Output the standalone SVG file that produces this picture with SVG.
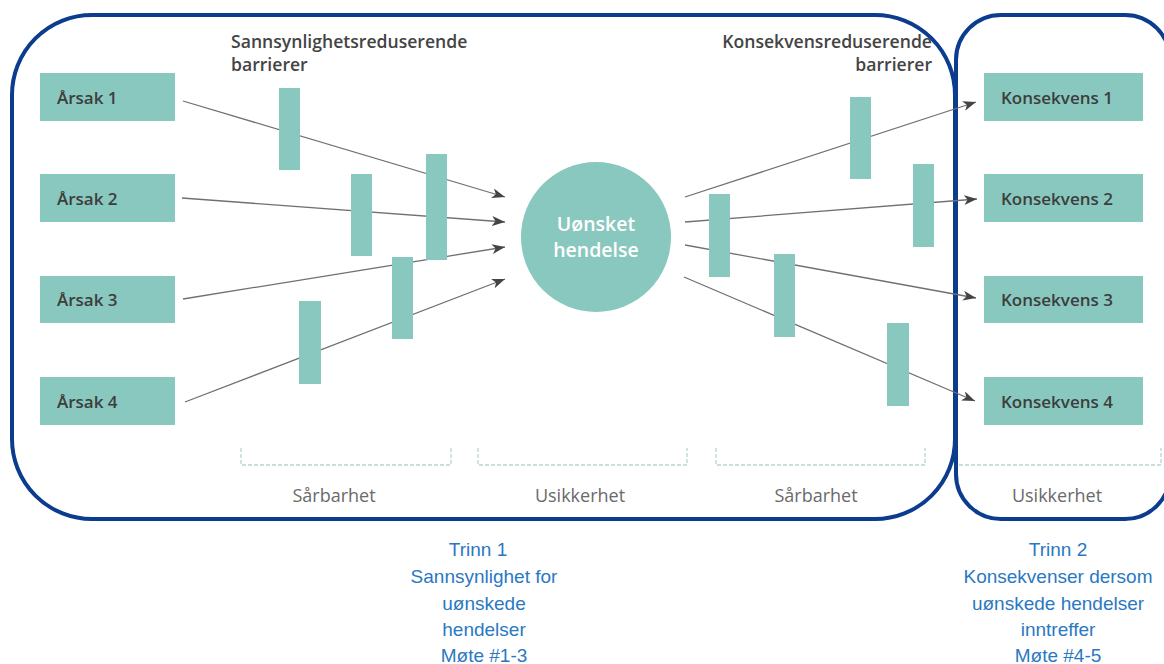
<svg xmlns="http://www.w3.org/2000/svg" width="1164" height="664" viewBox="0 0 1164 664">
<style>
.panel{fill:none;stroke:#0b3c8e;stroke-width:4}
.box{fill:#89c8be}
.bar{fill:#89c8be}
.lbl{font-family:"Open Sans","Noto Sans",sans-serif;font-size:17px;font-weight:600;fill:#3d3d3d}
.hdr{font-family:"Open Sans","Noto Sans",sans-serif;font-size:17.6px;font-weight:600;fill:#444}
.ctr{font-family:"Open Sans","Noto Sans",sans-serif;font-size:19.5px;font-weight:600;fill:#ffffff}
.sec{font-family:"Open Sans","Noto Sans",sans-serif;font-size:18px;fill:#6a6a6a}
.blue{font-family:"Liberation Sans",Arial,sans-serif;font-size:19px;fill:#2a78c2}
.ln{fill:none;stroke:#707070;stroke-width:1.3}
.br{fill:none;stroke:#b9d3cf;stroke-width:1.3;stroke-dasharray:4 2}
</style>
<defs>
<marker id="ah" markerUnits="userSpaceOnUse" markerWidth="14" markerHeight="12" refX="13" refY="5" orient="auto">
<path d="M0,0 L13,5 L0,10 L3.5,5 z" fill="#444"/>
</marker>
</defs>
<rect width="1164" height="664" fill="#ffffff"/>
<g id="panels">
<rect class="panel" x="12" y="15" width="943" height="504" rx="80" ry="80"/>
<rect class="panel" x="956" y="15" width="214" height="504" rx="45" ry="45"/>
</g>
<g id="connectors">
<line class="ln" x1="183" y1="101" x2="505" y2="197" marker-end="url(#ah)"/>
<line class="ln" x1="182" y1="198" x2="505" y2="222" marker-end="url(#ah)"/>
<line class="ln" x1="183" y1="299" x2="505" y2="247" marker-end="url(#ah)"/>
<line class="ln" x1="185" y1="402" x2="505" y2="279" marker-end="url(#ah)"/>
<line class="ln" x1="685" y1="197" x2="976" y2="102" marker-end="url(#ah)"/>
<line class="ln" x1="685" y1="222" x2="977" y2="199" marker-end="url(#ah)"/>
<line class="ln" x1="685" y1="245" x2="976" y2="298" marker-end="url(#ah)"/>
<line class="ln" x1="684" y1="277" x2="975" y2="401" marker-end="url(#ah)"/>
</g>
<g id="barriers">
<rect class="bar" x="279" y="88" width="21" height="82"/>
<rect class="bar" x="351" y="174" width="21" height="82"/>
<rect class="bar" x="426" y="154" width="21" height="106"/>
<rect class="bar" x="392" y="257" width="21" height="82"/>
<rect class="bar" x="299" y="301" width="22" height="83"/>
<rect class="bar" x="850" y="97" width="21" height="82"/>
<rect class="bar" x="913" y="164" width="21" height="83"/>
<rect class="bar" x="709" y="194" width="21" height="83"/>
<rect class="bar" x="774" y="254" width="21" height="83"/>
<rect class="bar" x="887" y="323" width="22" height="83"/>
</g>
<g id="headers">
<text class="hdr" x="231" y="48">Sannsynlighetsreduserende</text>
<text class="hdr" x="231" y="71">barrierer</text>
<text class="hdr" x="932" y="48" text-anchor="end">Konsekvensreduserende</text>
<text class="hdr" x="932" y="71" text-anchor="end">barrierer</text>
</g>
<g id="arsak1"><rect class="box" x="40" y="73" width="135" height="48"/><text class="lbl" x="57" y="104">Årsak 1</text></g>
<g id="arsak2"><rect class="box" x="40" y="174" width="135" height="48"/><text class="lbl" x="57" y="205">Årsak 2</text></g>
<g id="arsak3"><rect class="box" x="40" y="276" width="135" height="47"/><text class="lbl" x="57" y="306">Årsak 3</text></g>
<g id="arsak4"><rect class="box" x="40" y="377" width="135" height="48"/><text class="lbl" x="57" y="408">Årsak 4</text></g>
<g id="hendelse"><circle cx="596" cy="237" r="75" fill="#89c8be"/>
<text class="ctr" x="596" y="231" text-anchor="middle">Uønsket</text>
<text class="ctr" x="596" y="257" text-anchor="middle">hendelse</text></g>
<g id="konsekvens1"><rect class="box" x="984" y="73" width="159" height="48"/><text class="lbl" x="1001" y="104">Konsekvens 1</text></g>
<g id="konsekvens2"><rect class="box" x="984" y="174" width="159" height="48"/><text class="lbl" x="1001" y="205">Konsekvens 2</text></g>
<g id="konsekvens3"><rect class="box" x="984" y="276" width="159" height="47"/><text class="lbl" x="1001" y="306">Konsekvens 3</text></g>
<g id="konsekvens4"><rect class="box" x="984" y="377" width="159" height="48"/><text class="lbl" x="1001" y="408">Konsekvens 4</text></g>
<g id="sections">
<path class="br" d="M241,448 V465 H451 V448"/>
<path class="br" d="M478,448 V465 H687 V448"/>
<path class="br" d="M716,448 V465 H925 V448"/>
<path class="br" d="M959,465 H1161 V448"/>
<text class="sec" x="334" y="502" text-anchor="middle">Sårbarhet</text>
<text class="sec" x="580" y="502" text-anchor="middle">Usikkerhet</text>
<text class="sec" x="816" y="502" text-anchor="middle">Sårbarhet</text>
<text class="sec" x="1057" y="502" text-anchor="middle">Usikkerhet</text>
</g>
<g id="trinn1">
<text class="blue" x="478" y="556" text-anchor="middle">Trinn 1</text>
<text class="blue" x="484" y="583" text-anchor="middle">Sannsynlighet for</text>
<text class="blue" x="484" y="610" text-anchor="middle">uønskede</text>
<text class="blue" x="484" y="636" text-anchor="middle">hendelser</text>
<text class="blue" x="484" y="662" text-anchor="middle">Møte #1-3</text>
</g>
<g id="trinn2">
<text class="blue" x="1058" y="556" text-anchor="middle">Trinn 2</text>
<text class="blue" x="1058" y="583" text-anchor="middle">Konsekvenser dersom</text>
<text class="blue" x="1058" y="610" text-anchor="middle">uønskede hendelser</text>
<text class="blue" x="1058" y="636" text-anchor="middle">inntreffer</text>
<text class="blue" x="1058" y="662" text-anchor="middle">Møte #4-5</text>
</g>
</svg>
